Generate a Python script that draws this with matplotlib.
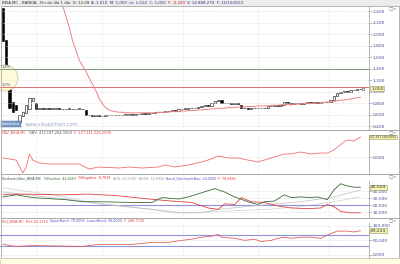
import numpy as np
import matplotlib.pyplot as plt
from matplotlib.patches import Rectangle, Ellipse

# price candles (one per session)
close = [1.87, 1.43, 0.72, 0.64, 0.68, 0.59, 0.64, 0.76, 0.89, 0.88, 0.70,
         0.71, 0.70, 0.71, 0.70, 0.70, 0.71, 0.70, 0.69, 0.70, 0.70, 0.69, 0.70, 0.70, 0.69,
         0.60,
         0.59, 0.58, 0.59, 0.57, 0.58, 0.59, 0.60, 0.59, 0.60, 0.59, 0.60,
         0.60, 0.61, 0.60, 0.61, 0.61, 0.62, 0.61, 0.62,
         0.63, 0.64, 0.65, 0.64, 0.66, 0.67, 0.68, 0.67, 0.69, 0.70,
         0.70, 0.71, 0.72, 0.71, 0.73, 0.74, 0.76, 0.75,
         0.80, 0.83, 0.85,
         0.80,
         0.80, 0.80, 0.79, 0.80, 0.79,
         0.71,
         0.71, 0.70, 0.71, 0.71, 0.72, 0.71, 0.72,
         0.74, 0.75, 0.76, 0.75, 0.76,
         0.81,
         0.80, 0.79, 0.80, 0.80, 0.79, 0.80, 0.81, 0.80, 0.81, 0.80, 0.81, 0.82, 0.82,
         0.86, 0.92, 0.97,
         1.00, 1.01, 1.00,
         1.02, 1.03, 1.04, 1.05]
open_gaps = {0: 2.45, 1: 1.90, 2: 1.15, 3: 0.82, 4: 0.77, 5: 0.47, 6: 0.57,
             7: 0.63, 8: 0.69, 9: 0.84, 10: 0.80, 25: 0.68, 66: 0.86, 72: 0.77, 85: 0.76}

ma_start = 17
ma = [2.64, 2.50, 2.31, 2.12, 1.89, 1.72, 1.55, 1.45, 1.36, 1.24, 1.13, 1.02, 0.89,
      0.79, 0.72, 0.68, 0.66, 0.65, 0.64,
      0.64, 0.63, 0.63, 0.63, 0.63, 0.63, 0.63, 0.63, 0.63, 0.63, 0.63, 0.64, 0.64,
      0.64, 0.64, 0.65, 0.65,
      0.65, 0.66, 0.66, 0.67, 0.67, 0.67, 0.68, 0.68, 0.69, 0.69, 0.70, 0.70, 0.71,
      0.71, 0.71, 0.72, 0.72, 0.72, 0.73, 0.73,
      0.73, 0.74, 0.74, 0.74, 0.75, 0.75, 0.75, 0.75, 0.76, 0.76, 0.76, 0.77, 0.77,
      0.77, 0.77, 0.78, 0.78, 0.78,
      0.79, 0.79, 0.79, 0.80, 0.80, 0.81, 0.81, 0.82, 0.82, 0.83, 0.84, 0.85, 0.85,
      0.86, 0.87, 0.88, 0.89, 0.90]

# OBV (millions)
obv_idx = [0, 4, 6, 7, 8, 9, 11, 14, 20, 23, 26, 29, 35, 38, 42, 47, 49, 52, 56, 60,
           63, 65, 68, 71, 74, 77, 81, 85, 87, 90, 93, 96, 98, 100, 103, 104, 106, 108]
obv = [-24, -71, -378, -236, 71, -71, -142, -165, -165, -165, -283, -236, -260, -236,
       -260, -236, -189, -236, -189, -118, -47, 24, -24, -24, -71, -118, -24, 71, 71,
       118, 71, 94, 94, 165, 354, 401, 378, 472]

# stochastic
k_idx = [0, 4, 9, 19, 24, 29, 39, 45, 48, 53, 56, 60, 64, 67, 70, 74, 77, 79, 82, 85,
         87, 90, 93, 95, 98, 100, 102, 104, 106, 108]
k_val = [32, 35, 31, 28, 25, 25, 24, 24, 31, 29, 32, 38, 44, 39, 32, 25, 21, 25, 26, 35,
         31, 32, 31, 32, 28, 42, 51, 48, 46, 46]
d_idx = [0, 2, 7, 17, 26, 34, 44, 51, 57, 62, 65, 67, 70, 72, 75, 79, 83, 87, 92, 96,
         98, 100, 102, 105, 108]
d_val = [35, 36, 36, 35, 36, 34, 29, 26, 24, 16, 14, 22, 21, 31, 25, 24, 19, 16, 15, 16,
         21, 18, 11, 9, 9]
g1_idx = [0, 15, 30, 45, 52, 60, 65, 80, 90, 100, 108]
g1_val = [39, 31, 22, 14, 9, 9, 14, 21, 25, 32, 42]
g2_idx = [0, 15, 30, 45, 55, 65, 80, 90, 100, 108]
g2_val = [45, 35, 21, 14, 9, 11, 14, 18, 25, 32]
stoch_band = 20

# RSI
rsi_idx = [0, 4, 9, 24, 29, 39, 45, 50, 54, 57, 60, 63, 65, 66, 70, 73, 76, 78, 81, 83,
           85, 87, 90, 93, 96, 98, 101, 104, 106, 108]
rsi = [36, 29, 32, 29, 36, 36, 43, 43, 50, 54, 61, 64, 71, 61, 57, 50, 54, 46, 50, 57,
       61, 57, 61, 61, 57, 68, 82, 82, 79, 83]
rsi_bands = [70, 30]

months = ['Jun', 'Jul', 'Ago', 'Sep', 'Oct']
month_pos = [10, 30, 54.5, 77, 98.5]

W, H = 400, 264
fig = plt.figure(figsize=(4, 2.64), dpi=100)
renderer = fig.canvas.get_renderer()
lab_col = '#4a4a9a'
grid_col = '#dcdcdc'
XL = (-0.9, 110.6)


def rect(t, b, l=0, r=369):
    return [l / W, 1 - b / H, (r - l) / W, (b - t) / H]


def frame(t, b):
    fig.patches.append(Rectangle((0.5 / W, 1 - b / H), 398.5 / W, (b - t) / H,
                                 transform=fig.transFigure, fill=False,
                                 ec='#a8a8a8', lw=0.6))
    fig.text(397 / W, 1 - (t + 3) / H, '-\u25a1\u00d7', fontsize=2.8, color='#666666',
             ha='right', va='center')


def chain_text(x, y, parts, size):
    # draw text pieces one after another, each in its own colour
    for txt, col in parts:
        t = fig.text(x / W, 1 - y / H, txt, fontsize=size, color=col, va='center')
        x += t.get_window_extent(renderer).width + 2


def panel(t, b, ylim, ticks, fmt):
    ax = fig.add_axes(rect(t, b))
    ax.set_xlim(*XL)
    ax.set_ylim(*ylim)
    for s in ['top', 'left', 'bottom']:
        ax.spines[s].set_visible(False)
    ax.spines['right'].set_color('#a8a8a8')
    ax.spines['right'].set_linewidth(0.6)
    ax.yaxis.tick_right()
    ax.set_yticks(ticks)
    ax.set_yticklabels([fmt(v) for v in ticks])
    ax.tick_params(axis='y', labelsize=3.2, labelcolor=lab_col, length=2, width=0.4,
                   color='#888888', pad=0.8)
    ax.set_xticks(month_pos)
    ax.tick_params(axis='x', length=0, labelbottom=False)
    ax.grid(True, color=grid_col, lw=0.4, ls=(0, (3, 2)))
    return ax


def dec(v, n=3):
    return f'{v:,.{n}f}'.replace(',', 'X').replace('.', ',').replace('X', '.')


def last_box(ax, y, txt, size=3.2, off=1.5):
    ax.annotate(txt, xy=(1.0, y), xycoords=('axes fraction', 'data'),
                xytext=(off, 0), textcoords='offset points', fontsize=size,
                color='#333333', va='center', ha='left',
                bbox=dict(boxstyle='square,pad=0.15', fc='#f4f4b0', ec='#999966', lw=0.4))


# title strip
fig.patches.append(Rectangle((0, 1 - 6 / H), 1, 6 / H, transform=fig.transFigure,
                             fc='#ececec', ec='none'))
chain_text(2, 3, [('BKIA.MC - BANKIA - Fin de día 1 día  H: 12:28', '#333333'),
                  ('A: 1,010  M: 1,059  m: 1,014  C: 1,050', '#333388'),
                  ('F: -0,280', '#dd2222'),
                  ('V: 14.888.270  F: 15/10/2013', '#333388')], 2.8)

# ---- main price panel
frame(6, 130)
n = len(close)
opens = [open_gaps.get(i, close[i - 1] if i > 0 else close[0]) for i in range(n)]
ax = panel(6, 130, (0.331, 2.487), np.arange(0.4, 2.41, 0.2), dec)
ax.axhline(1.4, color='#7a9a7a', lw=0.7)
ax.axhline(1.08, color='#e07070', lw=0.7)
ma_x = np.arange(ma_start, ma_start + len(ma))
ax.plot(ma_x, ma, color='#f08080', lw=0.7)
for i in range(n):
    o, c = opens[i], close[i]
    lo, hi = min(o, c), max(o, c)
    h = max(hi - lo, 0.006)
    fc = 'black' if c < o else 'white'
    ax.add_patch(Rectangle((i - 0.35, lo), 0.7, h, fc=fc, ec='black', lw=0.4))
ax.plot([n - 0.1], [close[-1]], marker='o', ms=2, mfc='white', mec='#444444', mew=0.4)
last_box(ax, close[-1], dec(close[-1]))
ax.add_patch(Ellipse((5 / 369, 1 - 72 / 124), 26 / 369, 26 / 124, transform=ax.transAxes,
                     fc='#fffbd8', ec='#c8c080', lw=0.5, clip_on=True))
ytr = ax.get_yaxis_transform()
ax.text(2 / 369, 1.4, '1,4%', fontsize=2.6, color=lab_col, va='bottom', transform=ytr)
ax.text(2 / 369, 1.08, '1,0%', fontsize=2.6, color=lab_col, va='bottom', transform=ytr)
ax.text(2 / 369, 6 / 124, 'Estadística', fontsize=2.4, color='white',
        transform=ax.transAxes, va='center',
        bbox=dict(boxstyle='square,pad=0.2', fc='#7a9ac8', ec='#4a6a98', lw=0.3))
ax.text(25 / 369, 5 / 124, 'www.visualchart.com', fontsize=3.6, color='#9aa8c8',
        transform=ax.transAxes, va='center')

# ---- OBV panel
frame(130, 174)
chain_text(2, 132.5, [('OBV_BKIA.MC', '#dd4444'), ('OBV: 472.187.264,0000', '#555555'),
                      ('F: 127.311.226,2000', '#dd4444')], 2.6)
ax2 = panel(135, 174, (-401, 519), [0], lambda v: '0,000')
ax2.plot(obv_idx, obv, color='#f07070', lw=0.6)
last_box(ax2, obv[-1], '472.187.264,0000', size=2.1, off=0.6)

# ---- stochastic panel
frame(174, 218)
chain_text(2, 178.5, [('StochasticNav_BKIA.MC', '#335533'),
                      ('%Positive: 46,5567', '#3a6a3a'),
                      ('%Negative: 8,7816', '#dd3333'),
                      ('ADX: 42,2760  ADXR: 33,0920', '#999999'),
                      ('Band_StochasticNav: 20,0000', '#5555cc'),
                      ('F: 76,8851', '#dd3333')], 2.4)
ax3 = panel(181, 218, (1.5, 55), [10, 20, 30, 40], lambda v: dec(v))
ax3.axhline(stoch_band, color='#9090e0', lw=0.8)
ax3.plot(g1_idx, g1_val, color='#c8c8c8', lw=0.6)
ax3.plot(g2_idx, g2_val, color='#b0b0b0', lw=0.6, ls=(0, (1, 1)))
ax3.plot(d_idx, d_val, color='#e04040', lw=0.6)
ax3.plot(k_idx, k_val, color='#3a6a3a', lw=0.6)
last_box(ax3, k_val[-1], '45,504')

# ---- RSI panel
frame(218, 258)
chain_text(2, 221, [('RSI_BKIA.MC  RSI: 83,3750', '#dd4444'),
                    ('UpperBand: 70,0000  LowerBand: 30,0000', '#5555cc'),
                    ('F: 288,7740', '#dd4444')], 2.4)
ax4 = panel(223, 258, (-11, 110), [0, 50, 100], lambda v: dec(v))
for b in rsi_bands:
    ax4.axhline(b, color='#9090e0', lw=0.8)
ax4.plot(rsi_idx, rsi, color='#e06060', lw=0.6)
last_box(ax4, rsi[-1], '83,224')

# ---- date strip
fig.patches.append(Rectangle((0, 0), 1, 6 / H, transform=fig.transFigure,
                             fc='#ffffe4', ec='#c8c8a0', lw=0.4))
axd = fig.add_axes(rect(258, 264))
axd.set_xlim(*XL)
axd.set_ylim(0, 1)
axd.axis('off')
for p, m in zip(month_pos, months):
    axd.plot([p, p], [0.7, 1.0], color='#666666', lw=0.4)
    axd.text(p + 0.6, 0.35, m, fontsize=3.2, color='#444444', va='center', ha='left')

fig.savefig('out.png', dpi=100)
